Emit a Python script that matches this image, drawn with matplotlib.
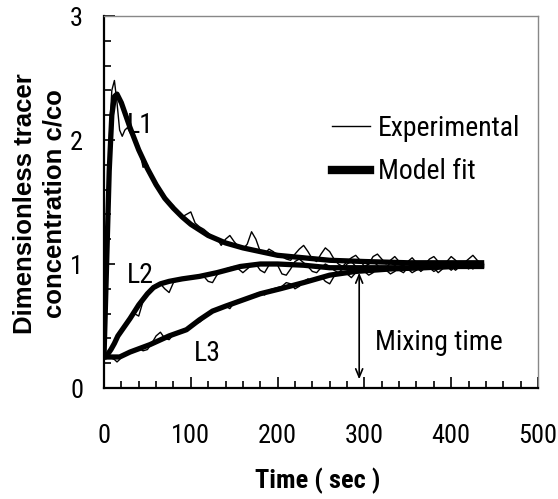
import matplotlib
matplotlib.use("Agg")
import matplotlib.pyplot as plt
from matplotlib.ticker import MultipleLocator

# --- experimental traces (sampled times, sec) ---
t_exp = [0, 3, 6, 9, 12, 15, 18, 21, 24, 27,
         30, 35, 40, 45, 50, 55, 60, 65, 70, 75,
         80, 85, 90, 95, 100, 105, 110, 115, 120, 125,
         130, 135, 140, 145, 150, 155, 160, 165, 170, 175,
         180, 185, 190, 195, 200, 205, 210, 215, 220, 225,
         230, 235, 240, 245, 250, 255, 260, 265, 270, 275,
         280, 285, 290, 295, 300, 305, 310, 315, 320, 325,
         330, 335, 340, 345, 350, 355, 360, 365, 370, 375,
         380, 385, 390, 395, 400, 405, 410, 415, 420, 425,
         430, 435]

l1_exp = [0.25, 1.20, 2.00, 2.40, 2.48, 2.30, 2.08, 2.03, 2.08, 2.10,
          2.06, 2.00, 1.95, 1.78, 1.80, 1.70, 1.66, 1.60, 1.55, 1.50,
          1.47, 1.42, 1.38, 1.40, 1.42, 1.33, 1.30, 1.28, 1.25, 1.22,
          1.21, 1.15, 1.20, 1.23, 1.18, 1.14, 1.12, 1.16, 1.26, 1.20,
          1.10, 1.08, 1.12, 1.10, 1.07, 1.06, 1.04, 1.03, 1.08, 1.12,
          1.15, 1.10, 1.04, 1.02, 1.08, 1.13, 1.10, 1.04, 1.00, 0.98,
          1.02, 1.05, 1.07, 1.03, 0.98, 1.00, 1.06, 1.08, 1.04, 1.00,
          1.03, 1.06, 1.02, 0.99, 1.02, 1.05, 1.01, 0.98, 1.00, 1.04,
          1.06, 1.02, 0.99, 1.02, 1.06, 1.03, 0.99, 1.01, 1.04, 1.07,
          1.03, 1.00]

l2_exp = [0.25, 0.25, 0.28, 0.33, 0.37, 0.40, 0.45, 0.48, 0.50, 0.53,
          0.55, 0.60, 0.58, 0.70, 0.75, 0.79, 0.82, 0.84, 0.80, 0.77,
          0.85, 0.87, 0.87, 0.88, 0.89, 0.90, 0.91, 0.90, 0.86, 0.85,
          0.91, 0.94, 0.96, 0.97, 0.98, 0.96, 0.93, 0.96, 0.99, 1.00,
          0.95, 0.93, 0.99, 1.01, 0.99, 0.92, 0.91, 0.96, 1.02, 1.04,
          1.01, 0.98, 0.94, 0.93, 0.97, 1.00, 0.98, 0.95, 0.93, 0.96,
          1.00, 1.02, 0.98, 0.94, 0.97, 1.00, 1.02, 0.99, 0.95, 0.97,
          1.01, 0.99, 0.95, 0.93, 0.97, 1.01, 0.98, 0.94, 0.97, 1.00,
          0.97, 0.93, 0.96, 1.00, 0.98, 0.95, 0.98, 1.02, 0.99, 0.96,
          0.99, 1.01]

l3_exp = [0.25, 0.25, 0.24, 0.24, 0.23, 0.21, 0.23, 0.26, 0.27, 0.28,
          0.29, 0.31, 0.32, 0.30, 0.31, 0.36, 0.42, 0.45, 0.40, 0.39,
          0.43, 0.45, 0.46, 0.47, 0.50, 0.52, 0.53, 0.56, 0.60, 0.62,
          0.64, 0.65, 0.66, 0.64, 0.69, 0.71, 0.70, 0.72, 0.74, 0.76,
          0.77, 0.75, 0.79, 0.80, 0.81, 0.82, 0.85, 0.84, 0.80, 0.82,
          0.86, 0.88, 0.86, 0.89, 0.90, 0.86, 0.84, 0.90, 0.93, 0.94,
          0.92, 0.89, 0.93, 0.96, 0.94, 0.91, 0.93, 0.97, 0.98, 0.95,
          0.92, 0.94, 0.98, 0.99, 0.96, 0.93, 0.95, 0.99, 1.00, 0.97,
          0.94, 0.96, 1.00, 0.98, 0.95, 0.98, 1.01, 0.99, 0.96, 0.99,
          1.02, 0.99]

# --- model fits ---
t_l1_fit = [0, 3, 6, 9, 12, 15, 20, 25, 30, 40, 50, 60, 70, 80, 90, 100,
            120, 140, 160, 180, 200, 230, 260, 300, 350, 400, 435]
l1_fit = [0.25, 1.00, 1.75, 2.20, 2.35, 2.37, 2.30, 2.20, 2.10, 1.92, 1.77,
          1.64, 1.53, 1.45, 1.38, 1.32, 1.23, 1.17, 1.13, 1.10, 1.07, 1.05,
          1.03, 1.02, 1.01, 1.01, 1.01]

t_l2_fit = [0, 4, 8, 12, 16, 20, 25, 30, 40, 50, 57, 65, 75, 90, 110, 130,
            157, 180, 200, 230, 260, 300, 350, 400, 435]
l2_fit = [0.25, 0.27, 0.31, 0.36, 0.42, 0.46, 0.51, 0.56, 0.67, 0.76, 0.81,
          0.84, 0.86, 0.88, 0.90, 0.93, 0.98, 1.00, 1.00, 0.99, 0.97, 0.97,
          0.97, 0.98, 0.98]

t_l3_fit = [0, 18, 30, 53, 75, 95, 110, 125, 140, 160, 180, 203, 230, 260,
            290, 330, 370, 400, 435]
l3_fit = [0.25, 0.25, 0.29, 0.35, 0.42, 0.47, 0.55, 0.62, 0.66, 0.71, 0.76,
          0.80, 0.85, 0.91, 0.94, 0.96, 0.97, 0.98, 0.99]

curve_labels = ["L1", "L2", "L3"]
label_x = [26, 26, 103]
label_y = [2.12, 0.91, 0.28]

mix_t = 294
mix_top, mix_bottom = 0.93, 0.07

NARROW = ["Roboto Condensed", "IBM Plex Sans Condensed", "Liberation Sans",
          "DejaVu Sans"]
WIDE = ["Liberation Sans", "DejaVu Sans"]
plt.rcParams["font.family"] = NARROW

fig = plt.figure(figsize=(5.58, 4.99), dpi=100)
ax = fig.add_axes([104 / 558, 111 / 499, 434 / 558, 372 / 499])

ax.plot(t_exp, l1_exp, color="black", lw=1.0, label="Experimental")
ax.plot(t_l1_fit, l1_fit, color="black", lw=3.8, label="Model fit",
        solid_joinstyle="round")
for t, y in [(t_exp, l2_exp), (t_exp, l3_exp)]:
    ax.plot(t, y, color="black", lw=1.0)
for t, y in [(t_l2_fit, l2_fit), (t_l3_fit, l3_fit)]:
    ax.plot(t, y, color="black", lw=3.8, solid_joinstyle="round")

for name, x, y in zip(curve_labels, label_x, label_y):
    ax.text(x, y, name, fontsize=20, ha="left", va="center")

ax.annotate("", xy=(mix_t, mix_bottom), xytext=(mix_t, mix_top),
            arrowprops=dict(arrowstyle="<->,head_length=0.6,head_width=0.25",
                            color="black", lw=1.2, shrinkA=0, shrinkB=0))
ax.text(312, 0.37, "Mixing time", fontsize=20, ha="left", va="center")

ax.set_xlim(0, 500)
ax.set_ylim(0, 3)
ax.xaxis.set_major_locator(MultipleLocator(100))
ax.xaxis.set_minor_locator(MultipleLocator(20))
ax.yaxis.set_major_locator(MultipleLocator(1))
ax.yaxis.set_minor_locator(MultipleLocator(0.2))
ax.tick_params(which="both", direction="in", color="black", width=1.2)
ax.tick_params(which="major", length=8, labelsize=19)
ax.tick_params(which="minor", length=5)
ax.tick_params(axis="x", which="major", pad=26)
ax.tick_params(axis="y", which="major", pad=15)

for side in ["left", "bottom"]:
    ax.spines[side].set_linewidth(1.6)
    ax.spines[side].set_color("black")
for side in ["top", "right"]:
    ax.spines[side].set_linewidth(1.0)
    ax.spines[side].set_color("#888888")

ax.set_xlabel("Time ( sec )", fontsize=19, fontweight="bold")
ax.xaxis.set_label_coords(0.493, -0.213)
fig.text(40 / 558, 1 - 204 / 499, "Dimensionless tracer\nconcentration c/co",
         rotation=90, ha="center", va="center", fontsize=18.5,
         fontweight="bold", family=WIDE, linespacing=1.3)

leg = ax.legend(loc="upper left", bbox_to_anchor=(0.526, 0.735), frameon=False,
                fontsize=20, handlelength=1.35, handletextpad=0.3,
                labelspacing=0.6, borderpad=0, borderaxespad=0)
leg.get_lines()[1].set_linewidth(6)

fig.savefig("out.png", dpi=100)
